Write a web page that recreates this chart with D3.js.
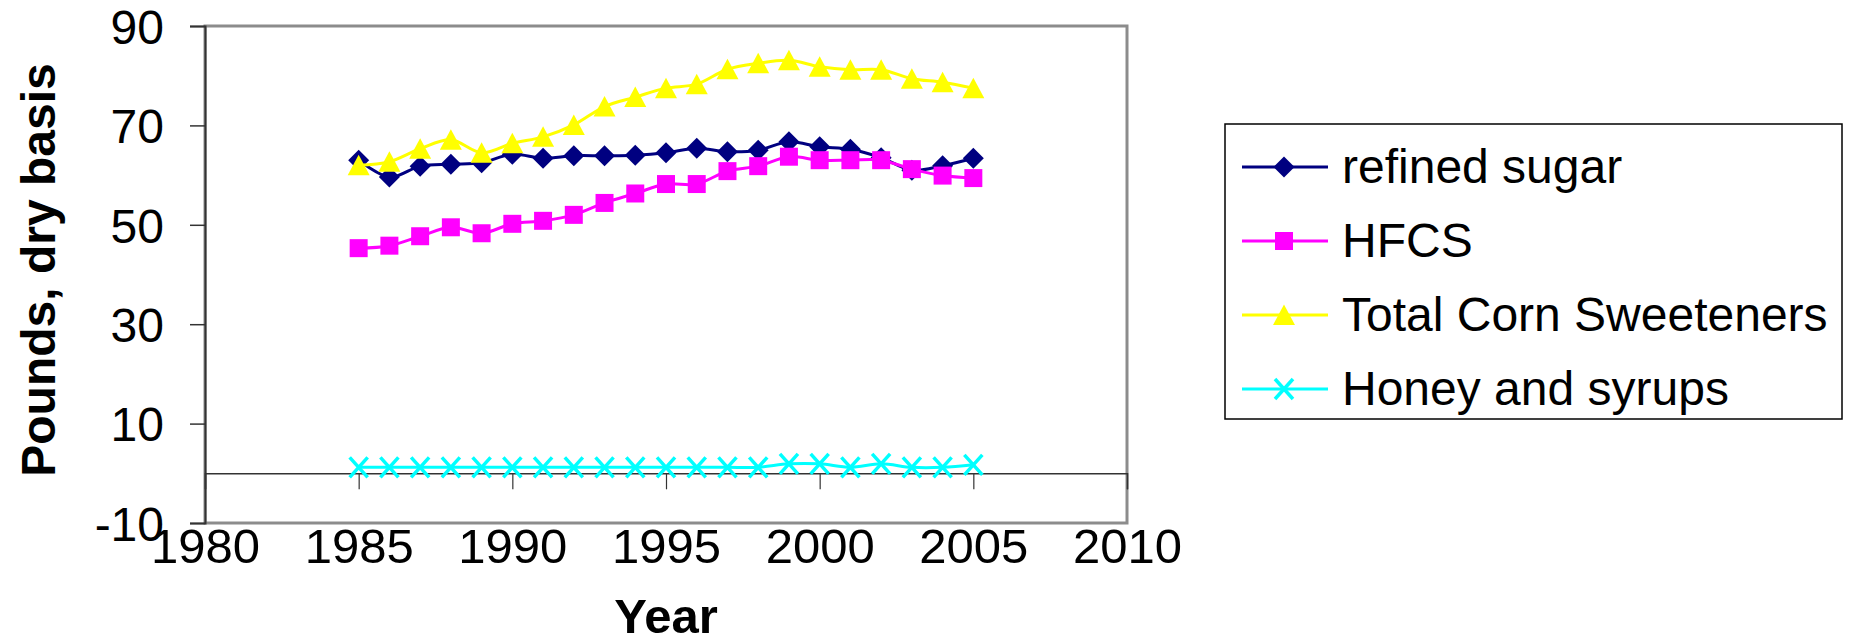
<!DOCTYPE html>
<html>
<head>
<meta charset="utf-8">
<script src="https://cdn.jsdelivr.net/npm/d3@7"></script>
<style>
  body { margin: 0; background: #fff; }
  svg { display: block; }
  text { font-family: "Liberation Sans", Arial, sans-serif; fill: #000; }
</style>
</head>
<body>
<svg id="chart" width="1850" height="640"></svg>
<script>
// Per-capita sweetener deliveries, pounds (dry basis), 1985-2005
const years = [1985, 1986, 1987, 1988, 1989, 1990, 1991, 1992, 1993, 1994, 1995,
               1996, 1997, 1998, 1999, 2000, 2001, 2002, 2003, 2004, 2005];
const refinedSugar = [63.0, 59.6, 61.8, 62.2, 62.5, 64.2, 63.4, 63.9, 63.9, 64.0, 64.5,
                      65.4, 64.7, 65.0, 66.7, 65.7, 65.2, 63.5, 61.0, 61.9, 63.4];
const hfcs = [45.3, 45.8, 47.7, 49.5, 48.3, 50.2, 50.8, 52.0, 54.4, 56.3, 58.2,
              58.2, 60.8, 61.8, 63.7, 63.0, 63.0, 63.0, 61.2, 59.9, 59.4];
const totalCornSweeteners = [62.0, 62.7, 65.3, 67.1, 64.5, 66.4, 67.7, 70.1, 73.8, 75.7, 77.5,
                             78.3, 81.3, 82.5, 83.1, 81.8, 81.2, 81.2, 79.4, 78.7, 77.5];
const honeyAndSyrups = [1.2, 1.2, 1.2, 1.2, 1.2, 1.2, 1.2, 1.2, 1.2, 1.2, 1.2,
                        1.2, 1.2, 1.2, 1.9, 1.9, 1.2, 1.9, 1.2, 1.2, 1.7];

const seriesNames = ["refined sugar", "HFCS", "Total Corn Sweeteners", "Honey and syrups"];
const seriesColors = ["#000080", "#FF00FF", "#FFFF00", "#00FFFF"];
const seriesMarkers = ["diamond", "square", "triangle", "cross"];
const seriesValues = [refinedSugar, hfcs, totalCornSweeteners, honeyAndSyrups];

const xTicks = [1980, 1985, 1990, 1995, 2000, 2005, 2010];
const yTicks = [-10, 10, 30, 50, 70, 90];

const svg = d3.select("#chart");

const plot = { left: 205, right: 1127, top: 26, bottom: 523 };
const x = d3.scaleLinear().domain([1980, 2010]).range([plot.left, plot.right]);
const y = d3.scaleLinear().domain([-10, 90]).range([plot.bottom, plot.top]);

// Marker shapes, centred on the data point
function markerPath(type) {
  switch (type) {
    case "diamond": return "M0,-10.5L10.5,0L0,10.5L-10.5,0Z";
    case "square": return "M-9,-9H9V9H-9Z";
    case "triangle": return "M0,-10.5L11,10L-11,10Z";
    case "cross": return "M-9,-10L9,10M-9,10L9,-10";
  }
}
function drawMarker(g, type, color) {
  const p = g.append("path").attr("d", markerPath(type));
  if (type === "cross") {
    p.attr("fill", "none").attr("stroke", color).attr("stroke-width", 3.5);
  } else {
    p.attr("fill", color).attr("stroke", "none");
  }
  return p;
}

// Plot-area frame
svg.append("rect")
  .attr("x", plot.left).attr("y", plot.top)
  .attr("width", plot.right - plot.left).attr("height", plot.bottom - plot.top)
  .attr("fill", "#fff").attr("stroke", "#8c8c8c").attr("stroke-width", 3);

// Y axis
const yAxis = svg.append("g")
  .attr("transform", `translate(${plot.left},0)`)
  .call(d3.axisLeft(y).tickValues(yTicks).tickSize(15).tickPadding(26).tickFormat(d => String(d)));
yAxis.select(".domain").attr("stroke", "#333").attr("stroke-width", 2);
yAxis.selectAll(".tick line").attr("stroke", "#333").attr("stroke-width", 1.5);
yAxis.selectAll(".tick text")
  .attr("font-size", 48)
  .attr("font-family", "'Liberation Sans', Arial, sans-serif")
  .attr("dy", "0.36em");

// Horizontal axis line at zero with year ticks
const xAxisLine = svg.append("g")
  .attr("transform", `translate(0,${y(0)})`)
  .call(d3.axisBottom(x).tickValues(xTicks).tickSize(16).tickFormat(""));
xAxisLine.select(".domain").attr("stroke", "#333").attr("stroke-width", 1.5);
xAxisLine.selectAll(".tick line").attr("stroke", "#333").attr("stroke-width", 1.2);

// Year labels along the bottom of the frame
const xLabels = svg.append("g")
  .attr("transform", `translate(0,${plot.bottom})`)
  .call(d3.axisBottom(x).tickValues(xTicks).tickSize(0).tickFormat(d => String(d)));
xLabels.select(".domain").remove();
xLabels.selectAll(".tick text")
  .attr("font-size", 49)
  .attr("font-family", "'Liberation Sans', Arial, sans-serif")
  .attr("y", 40).attr("dy", 0);

// Series lines and markers
const line = d3.line()
  .x((d, i) => x(years[i]))
  .y(d => y(d))
  .curve(d3.curveCatmullRom.alpha(0));

seriesValues.forEach((vals, s) => {
  const g = svg.append("g").attr("class", "series");
  g.append("path")
    .datum(vals)
    .attr("d", line)
    .attr("fill", "none")
    .attr("stroke", seriesColors[s])
    .attr("stroke-width", 3);
  vals.forEach((v, i) => {
    const m = g.append("g").attr("transform", `translate(${x(years[i])},${y(v)})`);
    drawMarker(m, seriesMarkers[s], seriesColors[s]);
  });
});

// Axis titles
svg.append("text")
  .attr("transform", `translate(55,270) rotate(-90)`)
  .attr("text-anchor", "middle")
  .attr("font-size", 48).attr("font-weight", "bold")
  .text("Pounds, dry basis");

svg.append("text")
  .attr("x", (plot.left + plot.right) / 2).attr("y", 633)
  .attr("text-anchor", "middle")
  .attr("font-size", 49).attr("font-weight", "bold")
  .text("Year");

// Legend
const legend = svg.append("g");
legend.append("rect")
  .attr("x", 1225).attr("y", 124).attr("width", 617).attr("height", 295)
  .attr("fill", "#fff").attr("stroke", "#000").attr("stroke-width", 1.5);
const legendRowY = d3.scalePoint().domain(seriesNames).range([167, 389]);
seriesNames.forEach((name, s) => {
  const row = legend.append("g").attr("transform", `translate(0,${legendRowY(name)})`);
  row.append("line")
    .attr("x1", 1242).attr("x2", 1328).attr("y1", 0).attr("y2", 0)
    .attr("stroke", seriesColors[s]).attr("stroke-width", 3);
  const m = row.append("g").attr("transform", "translate(1284,0)");
  drawMarker(m, seriesMarkers[s], seriesColors[s]);
  row.append("text")
    .attr("x", 1342).attr("y", 16)
    .attr("font-size", 48)
    .text(name);
});
</script>
</body>
</html>
